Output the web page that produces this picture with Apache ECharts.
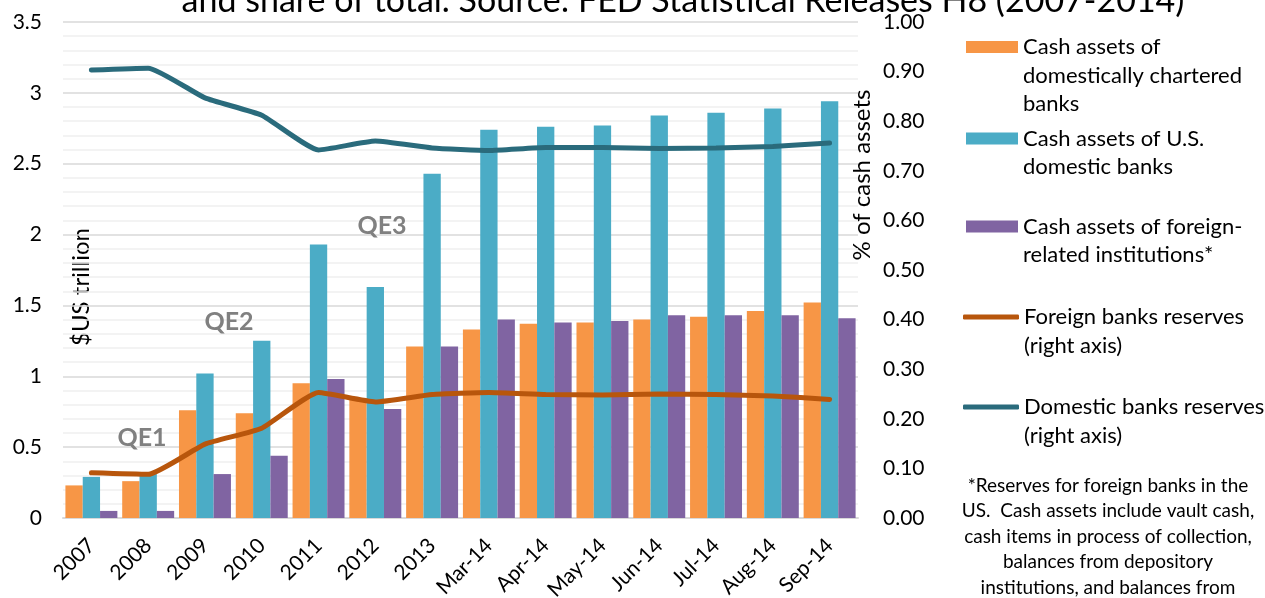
<!DOCTYPE html>
<html>
<head>
<meta charset="utf-8">
<script src="https://cdn.jsdelivr.net/npm/echarts@6/dist/echarts.min.js"></script>
<style>html,body{margin:0;padding:0;background:#fff;}#c{width:1265px;height:598px;}</style>
</head>
<body>
<div id="c"></div>
<script>
const categories = ['2007','2008','2009','2010','2011','2012','2013','Mar-14','Apr-14','May-14','Jun-14','Jul-14','Aug-14','Sep-14'];
const domesticCharteredCash = [0.23,0.26,0.76,0.74,0.95,0.84,1.21,1.33,1.37,1.38,1.40,1.42,1.46,1.52];
const usDomesticCash = [0.29,0.31,1.02,1.25,1.93,1.63,2.43,2.74,2.76,2.77,2.84,2.86,2.89,2.94];
const foreignRelatedCash = [0.05,0.05,0.31,0.44,0.98,0.77,1.21,1.40,1.38,1.39,1.43,1.43,1.43,1.41];
const foreignReserves = [0.091,0.088,0.149,0.181,0.253,0.234,0.249,0.253,0.249,0.248,0.250,0.249,0.246,0.239];
const domesticReserves = [0.903,0.907,0.847,0.812,0.742,0.760,0.746,0.741,0.747,0.747,0.745,0.746,0.749,0.756];
const leftTicks = {min: 0, max: 3.5, interval: 0.5};
const rightTicks = {min: 0, max: 1, interval: 0.1};

const FONT = 'Lato';
const names = [
  'Cash assets of domestically chartered banks',
  'Cash assets of U.S. domestic banks',
  'Cash assets of foreign-related institutions*',
  'Foreign banks reserves (right axis)',
  'Domestic banks reserves (right axis)'
];
const legendLines = [
  ['Cash assets of','domestically chartered','banks'],
  ['Cash assets of U.S.','domestic banks'],
  ['Cash assets of foreign-','related institutions*'],
  ['Foreign banks reserves','(right axis)'],
  ['Domestic banks reserves','(right axis)']
];
const legendColors = ['#F79646', '#4BACC6', '#8064A2', '#B8560C', '#2A6B7C'];
const legendCenters = [47, 138.5, 226.5, 317, 407];
const LH = 28.5;
const legends = names.map((n, i) => {
  const lines = legendLines[i];
  const pad = new Array(lines.length - 1).fill('');
  const txt = pad.concat(lines).join('\n');
  const H = (2 * lines.length - 1) * LH;
  const isLine = i >= 3;
  return {
    orient: 'vertical', left: isLine ? 963 : 966, top: legendCenters[i] - H / 2, padding: 0,
    itemWidth: isLine ? 56 : 52, itemHeight: isLine ? 5 : 12, selectedMode: false,
    data: [{name: n, icon: isLine ? 'roundRect' : 'rect', itemStyle: {color: legendColors[i], borderWidth: 0}}],
    formatter: () => txt,
    textStyle: {fontFamily: FONT, fontSize: 22, lineHeight: LH, color: '#000'}
  };
});

const chart = echarts.init(document.getElementById('c'));
chart.setOption({
  animation: false,
  textStyle: {fontFamily: FONT},
  title: {
    text: 'and share of total. Source: FED Statistical Releases H8 (2007-2014)',
    left: 678, top: -21, textAlign: 'center',
    textStyle: {fontFamily: FONT, fontSize: 34, fontWeight: 'normal', color: '#000'}
  },
  legend: legends,
  grid: {left: 63, right: 407, top: 22, bottom: 80, containLabel: false, outerBoundsMode: 'none'},
  xAxis: {
    type: 'category', data: categories,
    axisLine: {lineStyle: {color: '#d9d9d9', width: 2}},
    axisTick: {show: false},
    axisLabel: {rotate: 45, fontSize: 21, color: '#000', margin: 24, interval: 0, fontFamily: FONT}
  },
  yAxis: [
    {
      type: 'value', min: leftTicks.min, max: leftTicks.max, interval: leftTicks.interval,
      axisLine: {show: false}, axisTick: {show: false},
      axisLabel: {fontSize: 21, color: '#000', margin: 21, fontFamily: FONT},
      splitLine: {lineStyle: {color: '#d9d9d9', width: 1.5}},
      minorTick: {show: false, splitNumber: 5},
      minorSplitLine: {show: true, lineStyle: {color: '#f0f0f0', width: 1.5}}
    },
    {
      type: 'value', min: rightTicks.min, max: rightTicks.max, interval: rightTicks.interval,
      axisLine: {show: false}, axisTick: {show: false}, splitLine: {show: false},
      axisLabel: {fontSize: 21, color: '#000', margin: 25, fontFamily: FONT, formatter: v => v.toFixed(2)}
    }
  ],
  series: [
    {name: names[0], type: 'bar', data: domesticCharteredCash, barGap: '0%', barCategoryGap: '8.5%', itemStyle: {color: '#F79646'}},
    {name: names[1], type: 'bar', data: usDomesticCash, itemStyle: {color: '#4BACC6'}},
    {name: names[2], type: 'bar', data: foreignRelatedCash, itemStyle: {color: '#8064A2'}},
    {name: names[3], type: 'line', yAxisIndex: 1, data: foreignReserves, symbol: 'none', smooth: 0.15, z: 5,
      lineStyle: {color: '#B8560C', width: 5, cap: 'round'}, itemStyle: {color: '#B8560C'}},
    {name: names[4], type: 'line', yAxisIndex: 1, data: domesticReserves, symbol: 'none', smooth: 0.15, z: 5,
      lineStyle: {color: '#2A6B7C', width: 5, cap: 'round'}, itemStyle: {color: '#2A6B7C'}}
  ],
  graphic: [
    {type: 'text', x: 81, y: 287, rotation: Math.PI / 2, style: {text: '$US trillion', fontFamily: FONT, fontSize: 24, fill: '#000', align: 'center', verticalAlign: 'middle'}},
    {type: 'text', x: 862, y: 175, rotation: Math.PI / 2, style: {text: '% of cash assets', fontFamily: FONT, fontSize: 24, fill: '#000', align: 'center', verticalAlign: 'middle'}},
    {type: 'text', x: 142, y: 438, z: 10, style: {text: 'QE1', fontFamily: FONT, fontSize: 25, fontWeight: 'bold', fill: '#808080', align: 'center', verticalAlign: 'middle'}},
    {type: 'text', x: 229, y: 322, z: 10, style: {text: 'QE2', fontFamily: FONT, fontSize: 25, fontWeight: 'bold', fill: '#808080', align: 'center', verticalAlign: 'middle'}},
    {type: 'text', x: 382, y: 226, z: 10, style: {text: 'QE3', fontFamily: FONT, fontSize: 25, fontWeight: 'bold', fill: '#808080', align: 'center', verticalAlign: 'middle'}},
    {type: 'text', x: 1108, y: 473, style: {
      text: '*Reserves for foreign banks in the\nUS.  Cash assets include vault cash,\ncash items in process of collection,\nbalances from depository\ninstitutions, and balances from',
      fontFamily: FONT, fontSize: 19, lineHeight: 25.5, fill: '#000', align: 'center', verticalAlign: 'top'}}
  ]
});
</script>
</body>
</html>
